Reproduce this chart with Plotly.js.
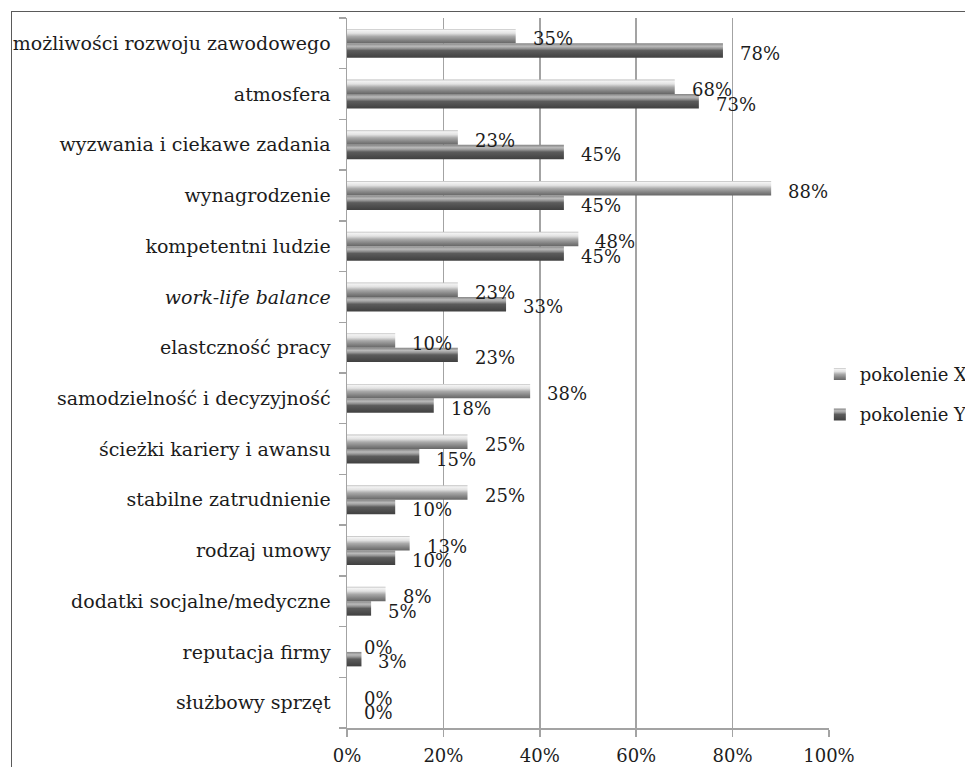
<!DOCTYPE html>
<html>
<head>
<meta charset="utf-8">
<script src="https://cdn.plot.ly/plotly-3.0.1.min.js"></script>
<style>
  html, body { margin: 0; padding: 0; background: #fff; overflow: hidden; }
  #wrap { position: relative; width: 965px; height: 767px; }
  #chart { position: absolute; left: 0; top: 0; width: 965px; height: 767px; }
  #frame { position: absolute; left: 11px; top: 11px; width: 1200px; height: 1000px;
           border-left: 1px solid #5a5a5a; border-top: 1px solid #5a5a5a; pointer-events: none; }
</style>
</head>
<body>
<div id="wrap">
  <div id="chart"></div>
  <div id="frame"></div>
</div>
<script>
// Czynniki ważne w pracy – porównanie pokoleń X i Y (odsetek wskazań)
const categories = [
  'możliwości rozwoju zawodowego',
  'atmosfera',
  'wyzwania i ciekawe zadania',
  'wynagrodzenie',
  'kompetentni ludzie',
  'work-life balance',
  'elastczność pracy',
  'samodzielność i decyzyjność',
  'ścieżki kariery i awansu',
  'stabilne zatrudnienie',
  'rodzaj umowy',
  'dodatki socjalne/medyczne',
  'reputacja firmy',
  'służbowy sprzęt'
];
const italicLabels = ['work-life balance'];

const seriesNames = ['pokolenie X', 'pokolenie Y'];
const genX = [35, 68, 23, 88, 48, 23, 10, 38, 25, 25, 13, 8, 0, 0];
const genY = [78, 73, 45, 45, 45, 33, 23, 18, 15, 10, 10, 5, 3, 0];

const xTicks = [0, 20, 40, 60, 80, 100];

const FONT = 'DejaVu Serif, Liberation Serif, serif';
const TXT = '#1c1c1c';
const GRID = '#a3a3a3';

const tickText = categories.map(c => italicLabels.includes(c) ? '<i>' + c + '</i>' : c);

function barTrace(name, values, offset, color) {
  return {
    type: 'bar',
    orientation: 'h',
    name: name,
    legendgroup: name,
    x: values,
    y: categories,
    offset: offset,
    width: 0.285,
    marker: { color: color, line: { width: 0 } },
    hoverinfo: 'skip'
  };
}

const traces = [
  barTrace(seriesNames[0], genX, -0.285, '#b8b8b8'),
  barTrace(seriesNames[1], genY, 0.0, '#5a5a5a')
];

// value labels placed just past the end of each bar
const annotations = [];
[[genX, 4.5], [genY, -10]].forEach(([vals, shift]) => {
  vals.forEach((v, i) => {
    annotations.push({
      x: v, y: categories[i], xref: 'x', yref: 'y',
      text: v + '%', showarrow: false,
      xanchor: 'left', yanchor: 'middle',
      xshift: 15, yshift: shift,
      font: { family: FONT, size: 18, color: TXT }
    });
  });
});

const layout = {
  width: 965,
  height: 767,
  margin: { l: 347, r: 136, t: 18, b: 39, autoexpand: false },
  paper_bgcolor: '#ffffff',
  plot_bgcolor: '#ffffff',
  barmode: 'overlay',
  showlegend: true,
  font: { family: FONT, size: 18, color: TXT },
  xaxis: {
    range: [0, 100],
    tickvals: xTicks,
    ticktext: xTicks.map(t => t + '%'),
    showgrid: true,
    gridcolor: GRID,
    gridwidth: 1.5,
    zeroline: false,
    showline: true,
    linecolor: GRID,
    linewidth: 1.5,
    ticks: 'outside',
    ticklen: 7,
    tickwidth: 1.5,
    tickcolor: GRID,
    tickfont: { family: FONT, size: 18, color: TXT },
    ticklabelstandoff: 4,
    fixedrange: true
  },
  yaxis: {
    type: 'category',
    categoryorder: 'array',
    categoryarray: categories,
    tickvals: categories,
    ticktext: tickText,
    range: [13.5, -0.5],
    showgrid: false,
    zeroline: false,
    showline: true,
    linecolor: GRID,
    linewidth: 1.5,
    ticks: 'outside',
    tickson: 'boundaries',
    ticklen: 7,
    tickwidth: 1.5,
    tickcolor: GRID,
    tickfont: { family: FONT, size: 19, color: TXT },
    ticklabelstandoff: 11,
    fixedrange: true
  },
  legend: {
    x: 0.981, xanchor: 'left',
    y: 0.47, yanchor: 'middle',
    traceorder: 'grouped',
    tracegroupgap: 14,
    itemwidth: 30,
    font: { family: FONT, size: 18, color: TXT },
    bgcolor: 'rgba(0,0,0,0)'
  },
  annotations: annotations,
  hovermode: false
};

// cylinder-like shading for both series
const shades = [
  [[0, '#bcbcbc'], [0.1, '#f3f3f3'], [0.3, '#e2e2e2'], [0.52, '#a9a9a9'], [0.8, '#808080'], [1, '#666666']],
  [[0, '#858585'], [0.2, '#bababa'], [0.34, '#979797'], [0.5, '#5c5c5c'], [1, '#404040']]
];

function addGradients(gd) {
  const svg = gd.querySelector('svg.main-svg');
  const ns = 'http://www.w3.org/2000/svg';
  let defs = svg.querySelector('defs');
  if (!defs) { defs = document.createElementNS(ns, 'defs'); svg.insertBefore(defs, svg.firstChild); }
  shades.forEach((stops, k) => {
    const g = document.createElementNS(ns, 'linearGradient');
    g.setAttribute('id', 'shade' + k);
    g.setAttribute('x1', '0'); g.setAttribute('y1', '0');
    g.setAttribute('x2', '0'); g.setAttribute('y2', '1');
    stops.forEach(([o, c]) => {
      const s = document.createElementNS(ns, 'stop');
      s.setAttribute('offset', o);
      s.setAttribute('stop-color', c);
      g.appendChild(s);
    });
    defs.appendChild(g);
  });
  gd.querySelectorAll('.barlayer .trace').forEach((tr, k) => {
    tr.querySelectorAll('path').forEach(p => { p.style.fill = 'url(#shade' + k + ')'; });
  });
  gd.querySelectorAll('.legend .traces').forEach((tr, k) => {
    tr.querySelectorAll('.legendpoints path').forEach(p => { p.style.fill = 'url(#shade' + k + ')'; });
  });
}

Plotly.newPlot('chart', traces, layout, { staticPlot: true, displayModeBar: false })
  .then(addGradients);
</script>
</body>
</html>
